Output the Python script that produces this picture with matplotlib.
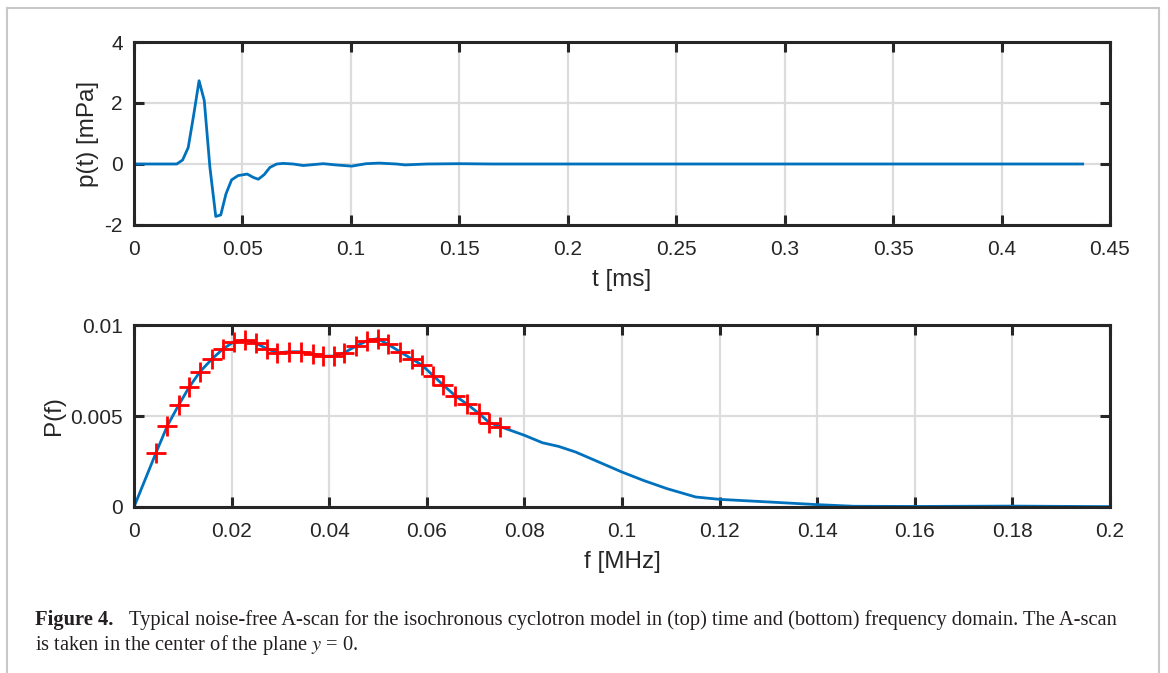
import matplotlib
matplotlib.use("Agg")
import matplotlib.pyplot as plt
from matplotlib.lines import Line2D

# ---- data: time domain ----
t_ms = [0.0, 0.010, 0.0197, 0.0224, 0.025, 0.0275, 0.030, 0.0324, 0.035, 0.0377,
        0.040, 0.0424, 0.045, 0.048, 0.0522, 0.055, 0.0573, 0.060, 0.0627, 0.0658,
        0.0688, 0.0734, 0.078, 0.0873, 0.093, 0.1004, 0.107, 0.113, 0.121, 0.125,
        0.135, 0.150, 0.165, 0.20, 0.25, 0.30, 0.35, 0.40, 0.4374]
p_mPa = [0.0, 0.0, 0.0, 0.13, 0.54, 1.60, 2.73, 2.08, -0.11, -1.72,
         -1.67, -0.98, -0.52, -0.38, -0.33, -0.44, -0.50, -0.35, -0.11, 0.0,
         0.02, 0.0, -0.05, 0.01, -0.03, -0.07, 0.01, 0.03, 0.0, -0.03,
         0.0, 0.01, 0.0, 0.0, 0.0, 0.0, 0.0, 0.0, 0.0]

# ---- data: frequency domain, markers ----
mk_f = [0.00451, 0.00683, 0.00915, 0.01134, 0.01352, 0.0160, 0.0183, 0.0205,
        0.02275, 0.0250, 0.0272, 0.0294, 0.0318, 0.0342, 0.0366, 0.0388,
        0.0410, 0.0430, 0.0455, 0.0477, 0.0499, 0.0521, 0.0545, 0.0569,
        0.0590, 0.0613, 0.0634, 0.0658, 0.0682, 0.0706, 0.0728, 0.0750]
mk_P = [0.00298, 0.00446, 0.00560, 0.00660, 0.00743, 0.00814, 0.00870, 0.00908,
        0.00917, 0.00900, 0.00870, 0.00847, 0.00853, 0.00853, 0.00842, 0.00829,
        0.00829, 0.00847, 0.00884, 0.00912, 0.00925, 0.00893, 0.00853, 0.00814,
        0.00780, 0.00722, 0.00669, 0.00612, 0.00566, 0.00516, 0.00464, 0.00442]

# ---- data: frequency domain, continuous spectrum ----
ext_f = [0.080, 0.0837, 0.0870, 0.0905, 0.095, 0.100, 0.1045, 0.1092, 0.1151,
         0.120, 0.1305, 0.140, 0.1475, 0.160, 0.180, 0.200]
ext_P = [0.00394, 0.00353, 0.00333, 0.00302, 0.00250, 0.00192, 0.00145, 0.00101,
         0.00055, 0.00042, 0.00027, 0.00013, 0.00004, 0.00003, 0.00005, 0.00002]

line_f = [0.0] + mk_f + ext_f
line_P = [0.0] + mk_P + ext_P

top_xticks = [0, 0.05, 0.1, 0.15, 0.2, 0.25, 0.3, 0.35, 0.4, 0.45]
top_xlabels = ["0", "0.05", "0.1", "0.15", "0.2", "0.25", "0.3", "0.35", "0.4", "0.45"]
top_yticks = [-2, 0, 2, 4]
bot_xticks = [0, 0.02, 0.04, 0.06, 0.08, 0.1, 0.12, 0.14, 0.16, 0.18, 0.2]
bot_xlabels = ["0", "0.02", "0.04", "0.06", "0.08", "0.1", "0.12", "0.14", "0.16", "0.18", "0.2"]
bot_yticks = [0, 0.005, 0.01]
bot_ylabels = ["0", "0.005", "0.01"]

W, H = 1168, 673
plt.rcParams['font.family'] = ['Liberation Sans', 'DejaVu Sans']
plt.rcParams['mathtext.fontset'] = 'stix'
fig = plt.figure(figsize=(W / 100, H / 100), dpi=100)

blue = "#0072BD"
spine_c = "#262626"

def px_axes(x0, y0, x1, y1):
    return fig.add_axes([x0 / W, 1 - y1 / H, (x1 - x0) / W, (y1 - y0) / H])

def style(ax):
    for s in ax.spines.values():
        s.set_linewidth(2.2)
        s.set_color(spine_c)
    ax.tick_params(direction="in", length=7, width=2.2, color=spine_c,
                   top=True, right=True, labelsize=15, labelcolor="#262626")
    ax.tick_params(axis="x", pad=11)
    ax.tick_params(axis="y", pad=8)
    ax.grid(True, color="#dcdcdc", linewidth=1.6)
    ax.set_axisbelow(True)

ax1 = px_axes(134, 42, 1110, 225)
ax1.plot(t_ms, p_mPa, color=blue, linewidth=2)
ax1.set_xlim(0, 0.45)
ax1.set_ylim(-2, 4)
ax1.set_xticks(top_xticks)
ax1.set_xticklabels(top_xlabels)
ax1.set_yticks(top_yticks)
ax1.set_yticklabels([str(v) for v in top_yticks])
style(ax1)
ax1.set_xlabel("t [ms]", fontsize=17.5, color="#262626", labelpad=7)
ax1.set_ylabel("p(t) [mPa]", fontsize=17.5, color="#262626", labelpad=4)

ax2 = px_axes(134, 325, 1110, 507)
ax2.plot(line_f, line_P, color=blue, linewidth=2)
ax2.plot(mk_f, mk_P, linestyle="none", marker="+", markersize=14,
         markeredgewidth=2, color="#ff0000")
ax2.set_xlim(0, 0.2)
ax2.set_ylim(0, 0.01)
ax2.set_xticks(bot_xticks)
ax2.set_xticklabels(bot_xlabels)
ax2.set_yticks(bot_yticks)
ax2.set_yticklabels(bot_ylabels)
style(ax2)
ax2.set_xlabel("f [MHz]", fontsize=17.5, color="#262626", labelpad=7)
ax2.set_ylabel("P(f)", fontsize=17.5, color="#262626", labelpad=4)

# frame around the figure
fc = "#c8c8c8"
for (xa, ya) in [([7, 7], [8, 673]), ([1159, 1159], [8, 673]), ([7, 1159], [8, 8])]:
    fig.add_artist(Line2D([x / W for x in xa], [1 - y / H for y in ya],
                          color=fc, linewidth=1.5))

# caption
cap_fs = 14.8
fig.text(35 / W, 1 - 620 / H, "Figure 4.", fontsize=cap_fs, fontweight="bold",
         family=["Liberation Serif"], va="center", ha="left", color="#231f20")
fig.text(129 / W, 1 - 620 / H,
         "Typical noise-free A-scan for the isochronous cyclotron model in (top) time and (bottom) frequency domain. The A-scan",
         fontsize=cap_fs, family=["Liberation Serif"], va="center", ha="left", color="#231f20")
fig.text(35 / W, 1 - 645 / H, "is taken in the center of the plane $y$ = 0.",
         fontsize=cap_fs, family=["Liberation Serif"], va="center", ha="left", color="#231f20")

fig.savefig("out.png", dpi=100)
